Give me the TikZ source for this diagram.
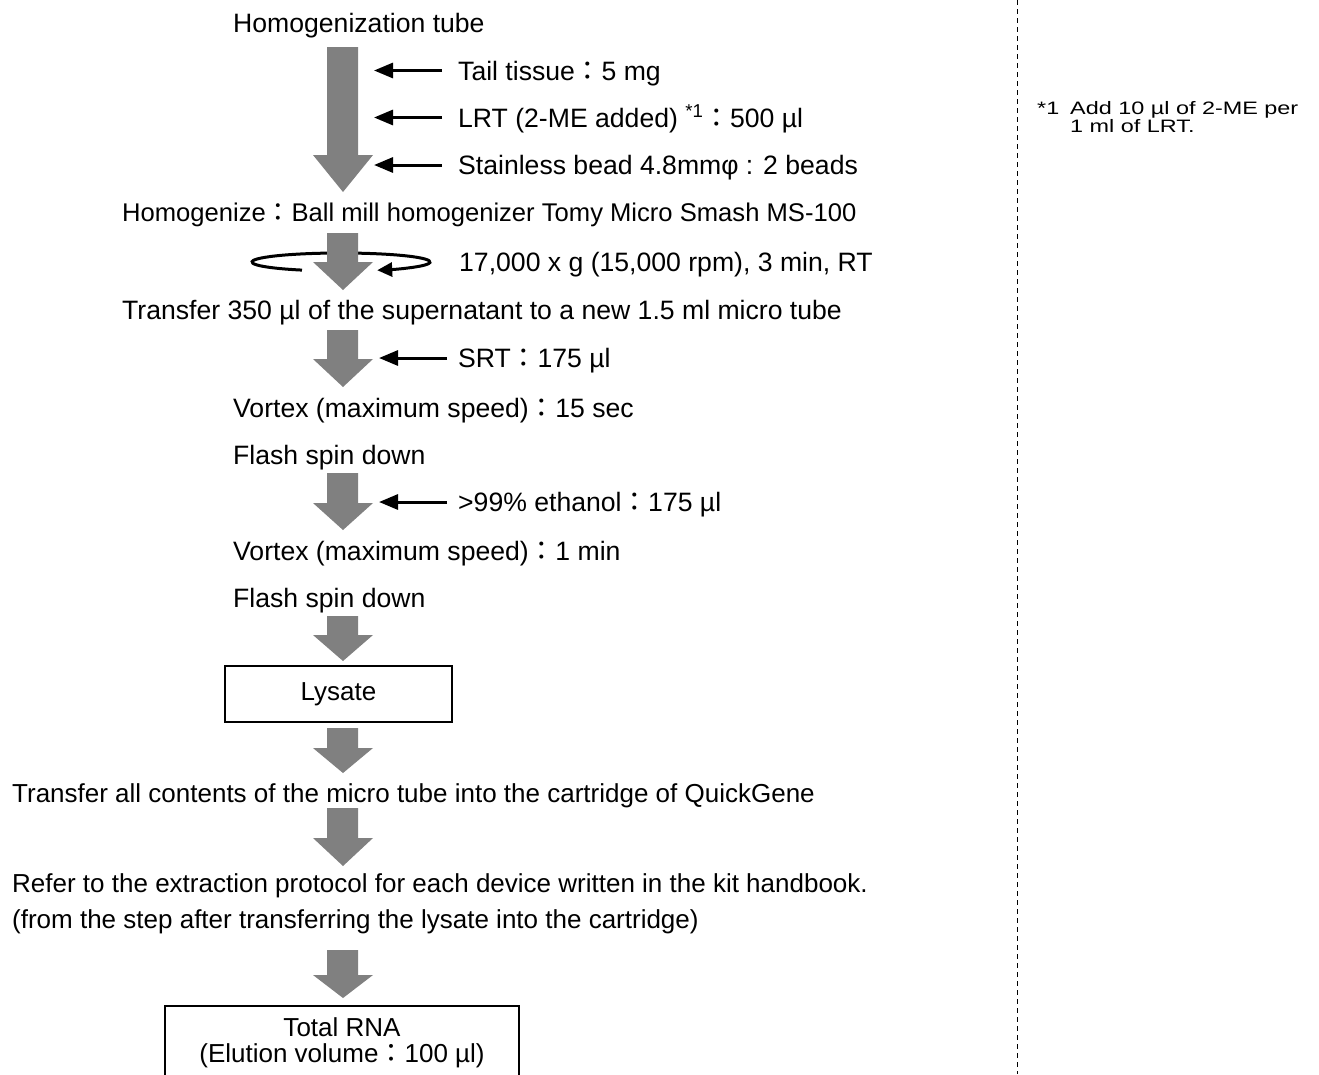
\documentclass[tikz,border=0pt]{standalone}
\usepackage{fontspec}
\setmainfont{Liberation Sans}
\newfontfamily\cjk{Noto Sans CJK JP}
\newfontfamily\notefont[FakeStretch=1.3]{Liberation Sans}
\usetikzlibrary{arrows.meta}
\definecolor{blockgray}{RGB}{128,128,128}
\newcommand\fwc{{\cjk ：}}
% block arrow: name, shaft top y, head base y, tip y
\newcommand\blockarrow[4]{%
  \coordinate (#1top) at (343,#2);
  \coordinate (#1tip) at (343,#4);
  \fill[blockgray] (#1top) ++(-16,0) -- ++(31,0) -- (358,#3) -- (373,#3) -- (#1tip) -- (313,#3) -- (327,#3) -- cycle;}
\begin{document}
\begin{tikzpicture}[x=1pt,y=-1pt,
  txt/.style={anchor=base west,inner sep=0pt,font=\fontsize{26.6}{30}\selectfont},
  txtb/.style={anchor=base west,inner sep=0pt,font=\fontsize{26}{30}\selectfont},
  note/.style={anchor=base west,inner sep=0pt,font=\notefont\fontsize{18}{17}\selectfont},
  feed/.style={line width=3pt,-{Triangle[length=19pt,width=15pt]}},
  boxed/.style={draw,line width=1.6pt,inner sep=0pt,align=center,font=\fontsize{26}{26}\selectfont}]
\fill[white] (0,0) rectangle (1319,1074);
\clip (0,0) rectangle (1319,1074);

% dashed divider
\coordinate (dtop) at (1017,0);
\coordinate (dbot) at (1017,1074);
\draw[line width=1pt,dash pattern=on 5pt off 4pt] (dtop) -- (dbot);

% footnote
\node[note] (nmark) at (1037,114) {*1};
\node[note] (n1) at (1070,114) {Add 10 µl of 2-ME per};
\node[note] (n2) at (1070,132) {1 ml of LRT.};

% texts
\node[txt] (tube) at (233,32) {Homogenization tube};
\node[txt] (tail) at (458,80) {Tail tissue\fwc 5 mg};
\node[txt] (lrt) at (458,127) {LRT (2-ME added) \textsuperscript{*1}\fwc 500 µl};
\node[txt] (bead) at (458,174) {Stainless bead 4.8mmφ : 2 beads};
\node[txt,font=\fontsize{25.6}{30}\selectfont] (homog) at (122,221) {Homogenize\fwc Ball mill homogenizer Tomy Micro Smash MS-100};
\node[txt] (cent) at (459,271) {17,000 x g (15,000 rpm), 3 min, RT};
\node[txt] (trans1) at (122,319) {Transfer 350 µl of the supernatant to a new 1.5 ml micro tube};
\node[txt] (srt) at (458,367) {SRT\fwc 175 µl};
\node[txt] (vort1) at (233,417) {Vortex (maximum speed)\fwc 15 sec};
\node[txt] (flash1) at (233,464) {Flash spin down};
\node[txt] (eth) at (458,511) {>99\% ethanol\fwc 175 µl};
\node[txt] (vort2) at (233,560) {Vortex (maximum speed)\fwc 1 min};
\node[txt] (flash2) at (233,607) {Flash spin down};
\node[boxed,minimum width=227pt,minimum height=56pt] (lysate) at (338.5,694) {Lysate};
\node[txtb] (trans2) at (12,802) {Transfer all contents of the micro tube into the cartridge of QuickGene};
\node[txtb] (refer) at (12,892) {Refer to the extraction protocol for each device written in the kit handbook.};
\node[txtb] (from) at (12,928) {(from the step after transferring the lysate into the cartridge)};
\node[boxed,minimum width=354pt,minimum height=74pt] (rna) at (342,1043) {Total RNA\\(Elution volume\fwc 100 µl)};

% centrifuge rotation (drawn behind the block arrow)
\coordinate (spin) at (341,262);
\draw[line width=3pt,-{Triangle[length=15pt,width=14pt]}] (spin) ++(116:89 and 9) arc[start angle=116,end angle=426,x radius=89,y radius=9];

% block arrows
\blockarrow{b1}{47}{155}{192}
\blockarrow{b2}{233}{262}{290}
\blockarrow{b3}{330}{359}{387}
\blockarrow{b4}{473}{503}{530}
\blockarrow{b5}{616}{635}{661}
\blockarrow{b6}{728}{748}{773}
\blockarrow{b7}{808}{838}{866}
\blockarrow{b8}{950}{975}{998}

% reagent feed arrows
\coordinate (i1) at (374,70.5);
\coordinate (i2) at (374,117.5);
\coordinate (i3) at (374,165);
\coordinate (i4) at (379,358);
\coordinate (i5) at (379,502);
\draw[feed] (tail.west |- i1) ++(-16,0) -- (i1);
\draw[feed] (lrt.west |- i2) ++(-16,0) -- (i2);
\draw[feed] (bead.west |- i3) ++(-16,0) -- (i3);
\draw[feed] (srt.west |- i4) ++(-11,0) -- (i4);
\draw[feed] (eth.west |- i5) ++(-11,0) -- (i5);
\end{tikzpicture}
\end{document}
